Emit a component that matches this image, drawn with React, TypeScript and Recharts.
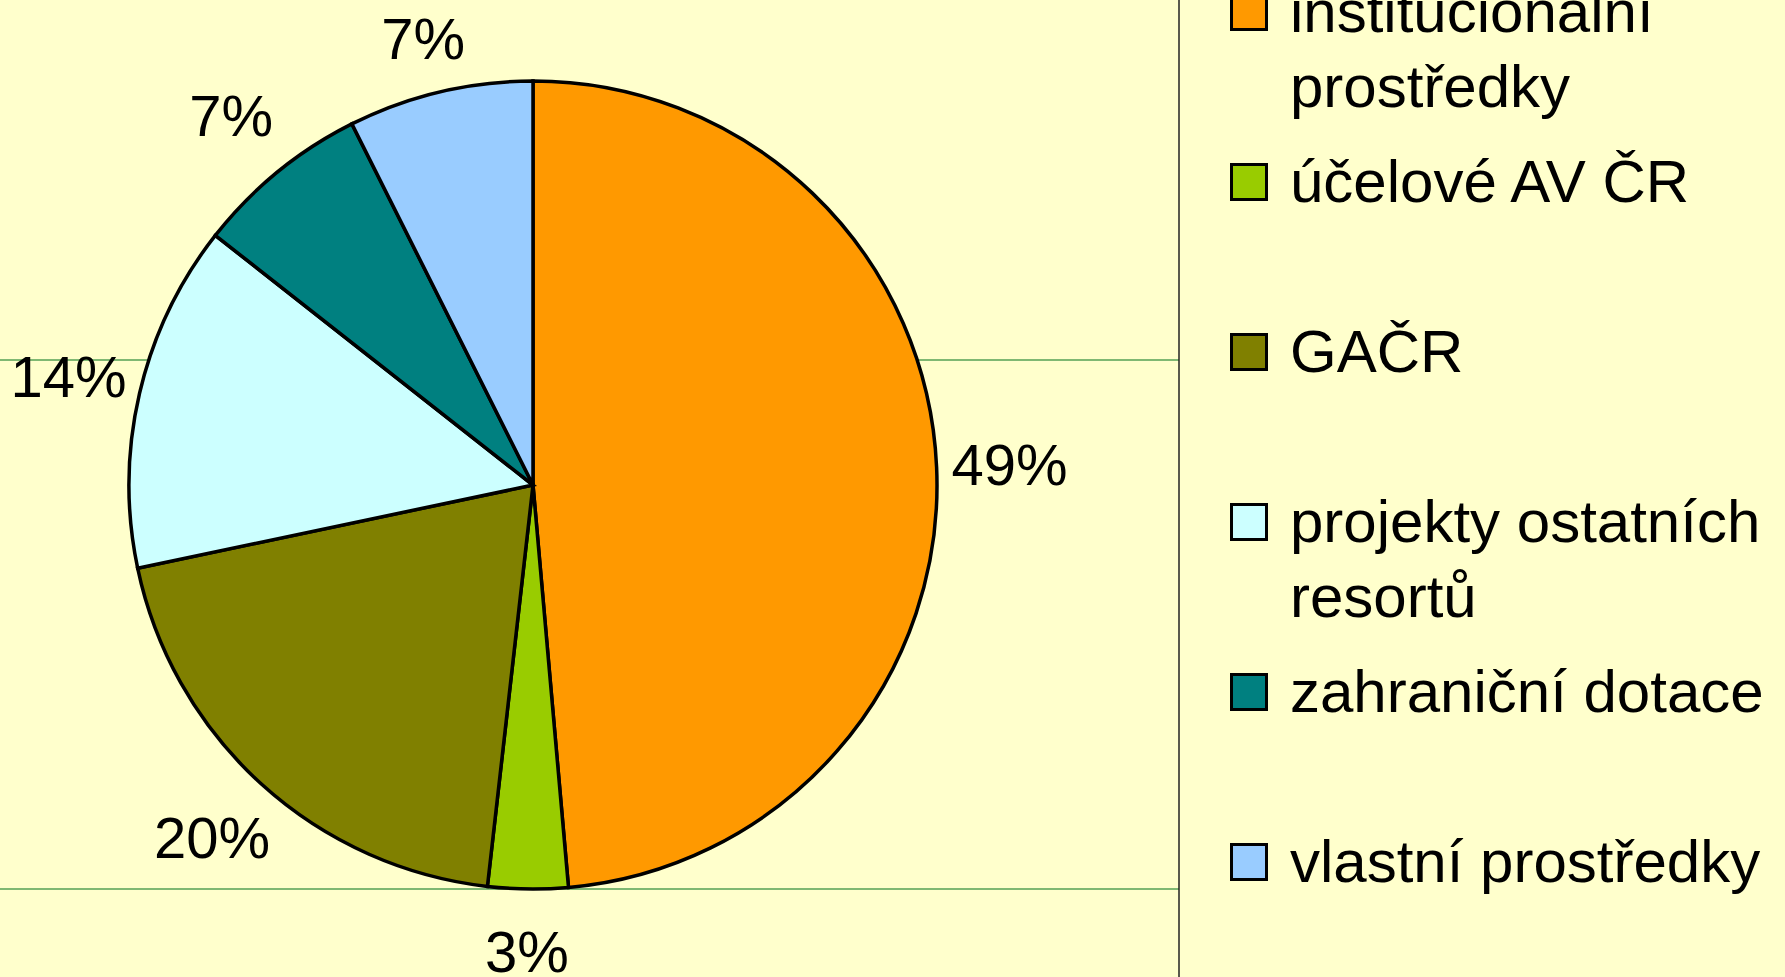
import { PieChart, Pie, Cell, Legend } from "recharts";

const categories = [
  "institucionální prostředky",
  "účelové AV ČR",
  "GAČR",
  "projekty ostatních resortů",
  "zahraniční dotace",
  "vlastní prostředky",
];
const shares = [48.6, 3.2, 19.9, 13.9, 7.0, 7.4];
const colors = ["#FF9900", "#99CC00", "#808000", "#CCFFFF", "#008080", "#99CCFF"];

const data = categories.map((name, i) => ({ name, value: shares[i], fill: colors[i] }));

const FONT = '"Liberation Sans", Arial, sans-serif';
const W = 1785;
const H = 977;
const RAD = Math.PI / 180;

const PctLabel = (props: any) => {
  const { cx, cy, midAngle, outerRadius, percent } = props;
  const r = outerRadius + 73;
  const x = cx + r * Math.cos(-midAngle * RAD);
  // keep labels inside the frame, like the original does near the edges
  const y = Math.min(H - 26, Math.max(38, cy + r * Math.sin(-midAngle * RAD)));
  return (
    <text x={x} y={y} textAnchor="middle" dominantBaseline="central" fill="#000" fontSize={58} fontFamily={FONT}>
      {Math.round(percent * 100)}%
    </text>
  );
};

const LegendBox = ({ payload }: any) => {
  const items = [...(payload || [])].sort(
    (a: any, b: any) => categories.indexOf(a.value) - categories.indexOf(b.value)
  );
  return (
    <div style={{ fontFamily: FONT, fontSize: 60, lineHeight: "75px", color: "#000" }}>
      {items.map((p: any) => (
        <div key={p.value} style={{ height: 170, display: "flex" }}>
          <div
            style={{
              width: 38, height: 38, boxSizing: "border-box", border: "3px solid #000",
              background: colors[categories.indexOf(p.value)] || p.color, marginTop: 19, flexShrink: 0,
            }}
          />
          <div style={{ marginLeft: 22, width: 490 }}>{p.value}</div>
        </div>
      ))}
    </div>
  );
};

export default function App() {
  return (
    <div style={{ position: "absolute", left: 0, top: 0, width: W, height: H, background: "#FFFFCC", overflow: "hidden" }}>
      {/* plot area gridlines + border behind the pie */}
      <svg width={W} height={H} style={{ position: "absolute", left: 0, top: 0 }}>
        <line x1={0} x2={1179} y1={360} y2={360} stroke="#55A055" strokeWidth={1.5} />
        <line x1={0} x2={1179} y1={889} y2={889} stroke="#55A055" strokeWidth={1.5} />
        <line x1={1179} x2={1179} y1={0} y2={H} stroke="#222" strokeWidth={1.5} />
      </svg>
      <div style={{ position: "absolute", left: 0, top: 0 }}>
        <PieChart width={W} height={H} margin={{ top: 0, right: 0, bottom: 0, left: 0 }}>
          <Pie
            data={data}
            dataKey="value"
            nameKey="name"
            cx={533}
            cy={485}
            outerRadius={404}
            startAngle={90}
            endAngle={-270}
            stroke="#000"
            strokeWidth={3.5}
            label={PctLabel}
            labelLine={false}
            isAnimationActive={false}
          >
            {data.map((d) => (
              <Cell key={d.name} fill={d.fill} />
            ))}
          </Pie>
          <Legend
            layout="vertical"
            content={<LegendBox />}
            wrapperStyle={{ position: "absolute", left: 1230, top: -26, width: 555, height: "auto" }}
          />
        </PieChart>
      </div>
    </div>
  );
}
